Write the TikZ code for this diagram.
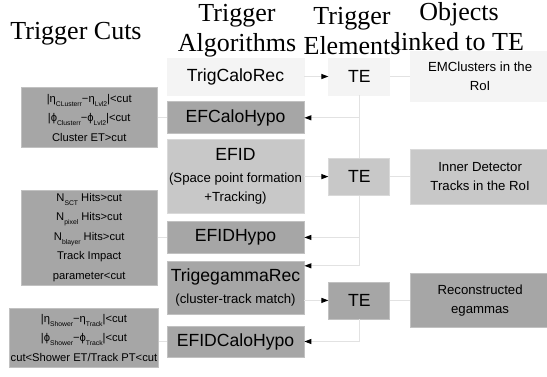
\documentclass[tikz,border=0pt]{standalone}
\usepackage{fontspec}
\setmainfont{Liberation Serif}
\setsansfont{Liberation Sans}
\usetikzlibrary{arrows.meta,positioning}

\definecolor{boxpale}{HTML}{F4F4F4}
\definecolor{boxmid}{HTML}{C8C8C8}
\definecolor{boxdark}{HTML}{A6A6A6}
\definecolor{linkgray}{HTML}{E2E2E2}

\newcommand{\lsub}[1]{\raisebox{-0.7ex}{\fontsize{6.8}{6.8}\selectfont #1}}
\newcommand{\bigsf}{\fontsize{17.6}{21}\selectfont}
\newcommand{\smallsf}{\fontsize{13.2}{19.5}\selectfont}

\begin{document}
\begin{tikzpicture}[x=1pt, y=-1pt, font=\sffamily,
    head/.style={font=\rmfamily\fontsize{26}{30}\selectfont, align=center, inner sep=0pt},
    pale/.style={fill=boxpale, draw=boxpale},
    mid/.style={fill=boxmid, draw=boxmid!70!white},
    dark/.style={fill=boxdark, draw=boxdark!70!white},
    algo/.style={minimum width=137pt, inner sep=1pt, align=center, font=\sffamily\bigsf, line width=0.8pt},
    te/.style={minimum width=61pt, minimum height=37pt, inner sep=1pt, font=\sffamily\bigsf, line width=0.8pt},
    obj/.style={minimum width=139pt, inner sep=1pt, align=center, font=\sffamily\smallsf, line width=0.8pt},
    cut/.style={minimum width=136pt, inner sep=1pt, align=center, font=\sffamily\fontsize{11.2}{19.5}\selectfont, line width=0.8pt},
    link/.style={draw=linkgray, line width=1pt},
    tip/.style={-{Triangle[length=7pt, width=5pt, black]}}
  ]
    \useasboundingbox (0,0) rectangle (547,376);

    % Headers
    \node[head] (hcuts) at (76,34) {Trigger Cuts};
    \node[head] (halgo) at (237,31) {Trigger\\Algorithms};
    \node[head] (helem) at (352,31) {Trigger\\Elements};
    \node[head] (hobj) at (459,27) {Objects\\linked to TE};

    % Trigger algorithms
    \node[algo, pale, minimum height=37pt] (calorec) at (235.5,76.5) {TrigCaloRec};
    \node[algo, dark, minimum height=32pt, below=6pt of calorec] (calohypo) {EFCaloHypo};
    \node[algo, mid, minimum height=74pt, below=5pt of calohypo, font=\sffamily\smallsf] (efid) {{\bigsf EFID}\\[2pt](Space point formation\\+Tracking)};
    \node[algo, dark, minimum height=32pt, below=7pt of efid] (efidhypo) {EFIDHypo};
    \node[algo, dark, minimum height=53pt, below=7pt of efidhypo, font=\sffamily\smallsf] (egrec) {{\bigsf TrigegammaRec}\\[2pt](cluster-track match)};
    \node[algo, dark, minimum height=31pt, below=11pt of egrec] (idcalohypo) {EFIDCaloHypo};

    % Trigger elements
    \node[te, pale, right=24pt of calorec] (te1) {TE};
    \node[te, mid, right=24pt of efid] (te2) {TE};
    \node[te, dark, below=86pt of te2] (te3) {TE};

    % Objects linked to TE
    \node[obj, pale, minimum height=50pt, right=20pt of te1] (emcl) {EMClusters in the\\RoI};
    \node[obj, mid, minimum height=55pt, right=20pt of te2] (inner) {Inner Detector\\Tracks in the RoI};
    \node[obj, dark, minimum height=54pt, right=20pt of te3] (reco) {Reconstructed\\egammas};

    % Trigger cuts
    \node[cut, dark, minimum height=60pt, left=9pt of calohypo] (cut1) {|η\lsub{CLusterr}−η\lsub{Lvl2}|<cut\\|ϕ\lsub{Clusterr}−ϕ\lsub{Lvl2}|<cut\\Cluster ET>cut};
    \node[cut, dark, minimum height=95pt, left=9pt of efidhypo] (cut2) {N\lsub{SCT} Hits>cut\\N\lsub{pixel} Hits>cut\\N\lsub{blayer} Hits>cut\\Track Impact\\parameter<cut};
    \node[cut, dark, minimum width=145pt, minimum height=59pt, left=8pt of idcalohypo, yshift=4pt] (cut3) {|η\lsub{Shower}−η\lsub{Track}|<cut\\|ϕ\lsub{Shower}−ϕ\lsub{Track}|<cut\\cut<Shower ET/Track PT<cut};

    % Connectors
    \draw[link, tip] (calorec) -- (te1);
    \draw[link] (te1) -- (emcl);
    \draw[link] (te1) -- (te2);
    \draw[link, tip] (te1.south) |- (calohypo.east);
    \draw[link, tip] (efid) -- (te2);
    \draw[link] (te2) -- (inner);
    \draw[link, tip] (te2.south) |- (efidhypo.east);
    \draw[link, tip] (te2.south) |- ([yshift=-5pt]egrec.north east);
    \draw[link, tip] (te3.west -| egrec.east) -- (te3.west);
    \draw[link] (te3) -- (reco);
    \draw[link, tip] (te3.south) |- (idcalohypo.east);
    \draw[link] (cut1) -- (calohypo);
    \draw[link] (cut2) -- (efidhypo);
    \draw[link] (cut3.east |- idcalohypo.west) -- (idcalohypo.west);
\end{tikzpicture}
\end{document}
